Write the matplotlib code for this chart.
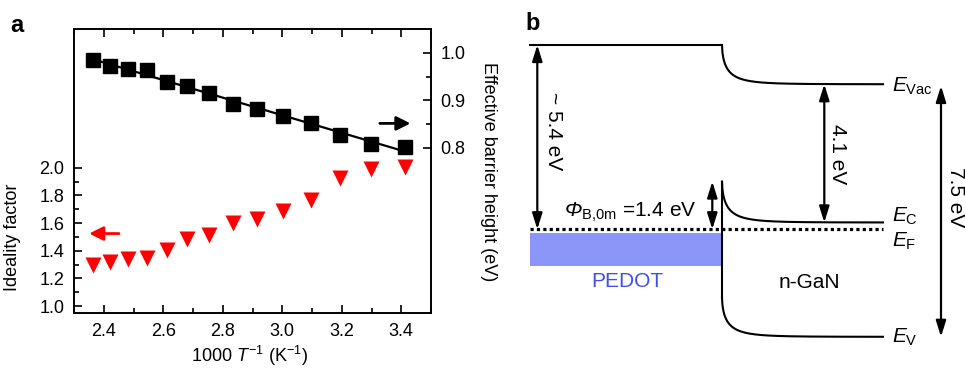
import matplotlib
matplotlib.use("Agg")
import matplotlib.pyplot as plt
import numpy as np

plt.rcParams['font.family'] = ['Liberation Sans', 'DejaVu Sans']
plt.rcParams['mathtext.fontset'] = 'custom'
plt.rcParams['mathtext.rm'] = 'Liberation Sans'
plt.rcParams['mathtext.it'] = 'Liberation Sans:italic'
plt.rcParams['mathtext.bf'] = 'Liberation Sans:bold'
plt.rcParams['mathtext.cal'] = 'Liberation Sans:italic'

# panel a data: 1000/T, ideality factor (left), effective barrier height (right)
inv_t = [2.364, 2.421, 2.481, 2.545, 2.611, 2.681, 2.755, 2.833, 2.915, 3.003, 3.096, 3.195, 3.300, 3.413]
ideality = [1.296, 1.320, 1.337, 1.349, 1.404, 1.488, 1.512, 1.601, 1.627, 1.688, 1.769, 1.925, 1.993, 2.005]
barrier = [0.986, 0.972, 0.966, 0.963, 0.938, 0.931, 0.915, 0.893, 0.882, 0.867, 0.852, 0.827, 0.807, 0.801]

# panel b band diagram levels (eV, PEDOT vacuum level = 0)
e_vac_pedot = 0.0
e_f = -5.4
e_vac_gan = -1.15
e_c = -5.2
e_v = -8.55
e_c_interface = -4.0
e_v_interface = -7.4
pedot_box = (-5.5, -6.48)

fs = 13
fig = plt.figure(figsize=(9.65, 3.69), dpi=100)

# ---------------- panel a ----------------
ax1 = fig.add_axes([74/965, 1-313/369, 357/965, 283.7/369])
ax2 = ax1.twinx()

ax1.plot(inv_t, ideality, 'v', color='#ff0000', ms=11, mec='none')
fit = np.polyfit(inv_t, barrier, 1)
xx = np.array([inv_t[0], inv_t[-1]])
ax2.plot(xx, np.polyval(fit, xx), '-', color='k', lw=1.6, zorder=1)
ax2.plot(inv_t, barrier, 's', color='k', ms=9.5, zorder=2)

ax1.set_xlim(2.3, 3.5)
ax1.set_ylim(0.95, 3.0)
ax2.set_ylim(0.45, 1.05)

ax1.set_xticks(np.arange(2.4, 3.41, 0.2))
ax1.set_xticks(np.arange(2.3, 3.51, 0.1), minor=True)
ax1.set_yticks(np.arange(1.0, 2.01, 0.2))
ax1.set_yticks(np.arange(1.0, 2.01, 0.1), minor=True)
ax2.set_yticks([0.8, 0.9, 1.0])
ax2.set_yticks([0.8, 0.85, 0.9, 0.95, 1.0], minor=True)
ax1.xaxis.set_major_formatter(matplotlib.ticker.FormatStrFormatter('%.1f'))
ax1.yaxis.set_major_formatter(matplotlib.ticker.FormatStrFormatter('%.1f'))
ax2.yaxis.set_major_formatter(matplotlib.ticker.FormatStrFormatter('%.1f'))

ax1.tick_params(which='both', direction='in', top=True, labelsize=fs, width=1.2)
ax1.tick_params(which='major', length=6, pad=7)
ax1.tick_params(which='minor', length=3.5)
ax2.tick_params(which='both', direction='in', labelsize=fs, width=1.2)
ax2.tick_params(which='major', length=6, pad=7)
ax2.tick_params(which='minor', length=3.5)
for ax in (ax1, ax2):
    for s in ax.spines.values():
        s.set_linewidth(1.2)

ax1.set_xlabel('1000 $T^{-1}$ (K$^{-1}$)', fontsize=fs)
ax1.xaxis.set_label_coords(0.493, -0.11)
ax1.set_ylabel('Ideality factor', fontsize=fs)
ax1.yaxis.set_label_coords(-0.148, 0.268)
ax2.set_ylabel('Effective barrier height (eV)', fontsize=fs, rotation=270, va='center')
ax2.yaxis.set_label_coords(1.16, 0.5)

ax2.annotate('', xy=(3.431, 0.851), xytext=(3.328, 0.851),
             arrowprops=dict(arrowstyle='-|>,head_length=0.6,head_width=0.3', color='k',
                             lw=2, mutation_scale=14, shrinkA=0, shrinkB=0))
ax1.annotate('', xy=(2.351, 1.524), xytext=(2.451, 1.524),
             arrowprops=dict(arrowstyle='-|>,head_length=0.6,head_width=0.3', color='#ff0000',
                             lw=2, mutation_scale=14, shrinkA=0, shrinkB=0))

fig.text(17/965, 1-25/369, 'a', fontsize=17, fontweight='bold', ha='center', va='center')

# ---------------- panel b ----------------
axb = fig.add_axes([0.5, 0, 0.5, 1])
axb.set_xlim(-239.5, 243)
axb.set_ylim(-9.493, 1.318)
axb.axis('off')

x_left, x_right = -192, 161
lw = 1.5


def bend(e_int, e_bulk):
    x = np.linspace(0, x_right, 400)
    return x, e_bulk + (e_int - e_bulk) * np.exp(-(x / 6.0) ** 0.6)


axb.plot([x_left, 0], [e_vac_pedot, e_vac_pedot], color='k', lw=lw)
x, y = bend(e_vac_pedot, e_vac_gan)
axb.plot(x, y, color='k', lw=lw)
x, y = bend(e_c_interface, e_c)
axb.plot(x, y, color='k', lw=lw)
x, y = bend(e_v_interface, e_v)
axb.plot(x, y, color='k', lw=lw)
axb.plot([0, 0], [e_c_interface, e_v_interface], color='k', lw=lw)

axb.fill_between([x_left, 0], pedot_box[1], pedot_box[0], color='#8c96f8', lw=0)
axb.plot([x_left, x_right], [e_f, e_f], color='k', lw=2.3, ls=(0, (1, 1)))

arr = dict(arrowstyle='<|-|>,head_length=0.8,head_width=0.25', color='k', lw=1.6,
           mutation_scale=12, shrinkA=0, shrinkB=0)
axb.annotate('', xy=(-184.7, e_vac_pedot), xytext=(-184.7, e_f), arrowprops=arr)
axb.annotate('', xy=(-9.7, e_c_interface), xytext=(-9.7, e_f), arrowprops=arr)
axb.annotate('', xy=(102.3, e_vac_gan), xytext=(102.3, e_c), arrowprops=arr)
axb.annotate('', xy=(219, e_vac_gan - 0.05), xytext=(219, e_v), arrowprops=arr)

fb = 15
axb.text(-169, -2.52, '~ 5.4 eV', fontsize=fb, rotation=270, ha='center', va='center')
axb.text(116, -3.19, '4.1 eV', fontsize=fb, rotation=270, ha='center', va='center')
axb.text(233, -4.47, '7.5 eV', fontsize=fb, rotation=270, ha='center', va='center')
axb.text(-92, -5.03, '$\\mathcal{\u03a6}_{\\mathrm{B{,}0m}}$ =1.4 eV', fontsize=fb, ha='center', va='baseline')
axb.text(170, -1.377, r'$E_{\mathrm{Vac}}$', fontsize=fb, ha='left', va='baseline')
axb.text(170, -5.18, r'$E_{\mathrm{C}}$', fontsize=fb, ha='left', va='baseline')
axb.text(170, -5.91, r'$E_{\mathrm{F}}$', fontsize=fb, ha='left', va='baseline')
axb.text(170, -8.73, r'$E_{\mathrm{V}}$', fontsize=fb, ha='left', va='baseline')
axb.text(-95, -6.94, 'PEDOT', fontsize=fb, color='#3f4ff0', ha='center', va='center')
axb.text(87, -6.97, 'n-GaN', fontsize=fb, ha='center', va='center')

fig.text(533/965, 1-23/369, 'b', fontsize=17, fontweight='bold', ha='center', va='center')

fig.savefig('out.png', dpi=100)
